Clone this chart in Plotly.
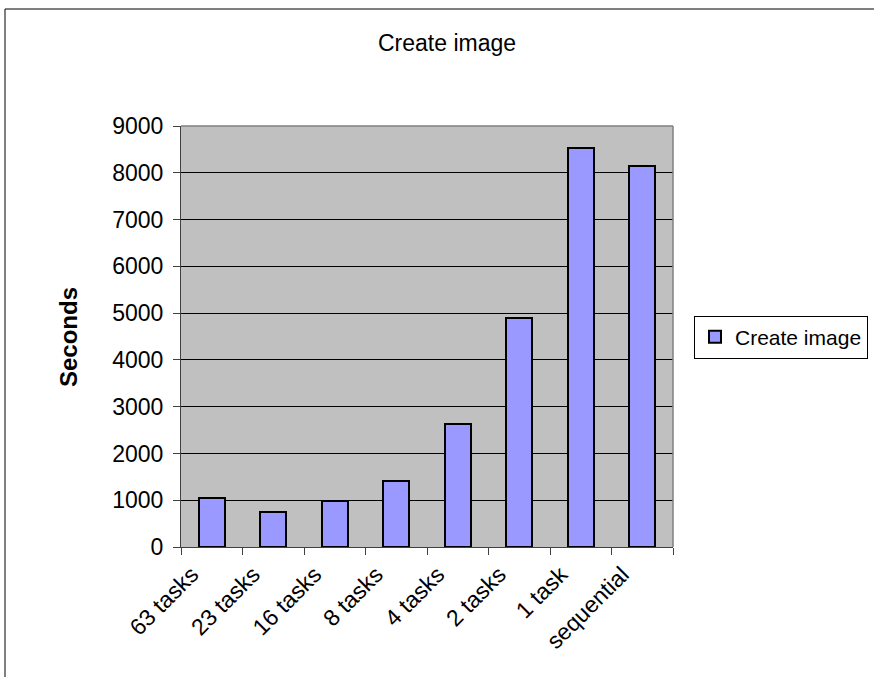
import plotly.graph_objects as go

# Run time of the "Create image" step per configuration
categories = ["63 tasks", "23 tasks", "16 tasks", "8 tasks", "4 tasks", "2 tasks", "1 task", "sequential"]
seconds = [1040, 750, 990, 1410, 2635, 4895, 8525, 8145]
series_name = "Create image"
y_ticks = [0, 1000, 2000, 3000, 4000, 5000, 6000, 7000, 8000, 9000]

W, H = 874, 677
ML, MR, MT, MB = 181, 201, 126, 130
PW = W - ML - MR
PH = H - MT - MB

FONT = "Liberation Sans, Arial, sans-serif"


def px_x(p):
    return (p - ML) / PW


def px_y(p):
    return (H - MB - p) / PH


fig = go.Figure(
    go.Bar(
        x=categories,
        y=seconds,
        name=series_name,
        width=0.43,
        marker=dict(color="#9999FF", line=dict(color="black", width=2)),
        showlegend=True,
    )
)

fig.update_layout(
    width=W,
    height=H,
    margin=dict(l=ML, r=MR, t=MT, b=MB, pad=0, autoexpand=False),
    paper_bgcolor="white",
    plot_bgcolor="#C0C0C0",
    font=dict(family=FONT, size=23, color="black"),
    title=dict(
        text="Create image",
        x=447 / W,
        xanchor="center",
        y=1 - 43 / H,
        yanchor="middle",
        font=dict(family=FONT, size=23, color="black"),
    ),
    showlegend=True,
    legend=dict(
        x=px_x(694),
        xanchor="left",
        y=px_y(337),
        yanchor="middle",
        bgcolor="white",
        bordercolor="black",
        borderwidth=1,
        font=dict(family=FONT, size=21, color="black"),
        itemsizing="constant",
    ),
    bargap=0,
)

fig.update_xaxes(
    type="category",
    tickangle=-45,
    ticks="outside",
    ticklen=7,
    tickcolor="#404040",
    tickson="boundaries",
    ticklabelshift=-20,
    ticklabelstandoff=4,
    showline=True,
    linecolor="#404040",
    linewidth=1,
    showgrid=False,
    tickfont=dict(family=FONT, size=23, color="black"),
)

fig.update_yaxes(
    range=[0, 9000],
    tickvals=y_ticks,
    ticks="outside",
    ticklen=7,
    tickcolor="#404040",
    ticklabelstandoff=5,
    showline=True,
    linecolor="#404040",
    linewidth=1,
    showgrid=True,
    gridcolor="black",
    gridwidth=1,
    zeroline=False,
    tickfont=dict(family=FONT, size=23, color="black"),
)

# Axis title drawn as a rotated annotation
fig.add_annotation(
    text="<b>Seconds</b>",
    textangle=-90,
    x=px_x(68),
    y=px_y(337),
    xref="paper",
    yref="paper",
    xanchor="center",
    yanchor="middle",
    showarrow=False,
    font=dict(family=FONT, size=24, color="black"),
)

# Grey border on the top and right of the plot area
fig.add_shape(type="line", xref="paper", yref="paper", x0=0, x1=1, y0=1, y1=1,
              line=dict(color="#808080", width=1.5))
fig.add_shape(type="line", xref="paper", yref="paper", x0=1, x1=1, y0=0, y1=1,
              line=dict(color="#808080", width=1.5))

# Chart area frame
fig.add_shape(type="rect", xref="paper", yref="paper",
              x0=px_x(5), x1=px_x(W + 5), y0=px_y(H + 5), y1=px_y(9),
              line=dict(color="black", width=1), fillcolor="rgba(0,0,0,0)")

fig.write_html("out.html")
